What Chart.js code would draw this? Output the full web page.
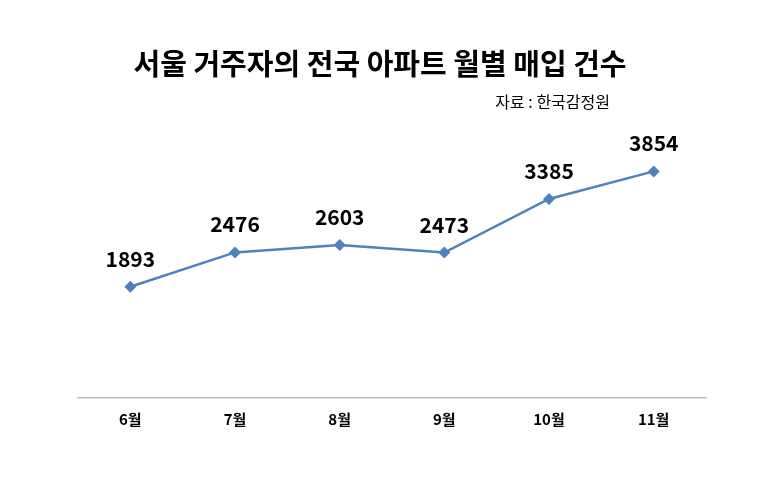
<!DOCTYPE html>
<html>
<head>
<meta charset="utf-8">
<script src="https://cdn.jsdelivr.net/npm/chart.js@4/dist/chart.umd.min.js"></script>
<style>
  html, body { margin: 0; padding: 0; background: #fff; }
  #wrap { width: 773px; height: 483px; }
</style>
</head>
<body>
<div id="wrap"><canvas id="tradeChart"></canvas></div>
<script>
var months = ['6월', '7월', '8월', '9월', '10월', '11월'];
var counts = [1893, 2476, 2603, 2473, 3385, 3854];
var chartTitle = '서울 거주자의 전국 아파트 월별 매입 건수';
var sourceText = '자료 : 한국감정원';

var FONT = "'Noto Sans CJK KR', 'Noto Sans', sans-serif";

// title + source line, drawn straight on the canvas
var headerPlugin = {
	id: 'header',
	beforeDraw: function(chart) {
		var ctx = chart.ctx;
		ctx.save();
		ctx.fillStyle = '#000';
		ctx.textBaseline = 'middle';
		ctx.textAlign = 'center';
		ctx.font = 'bold 29px ' + FONT;
		ctx.fillText(chartTitle, 380, 64);
		ctx.textAlign = 'right';
		ctx.font = '16px ' + FONT;
		ctx.fillText(sourceText, 610, 102);
		ctx.restore();
	}
};

// value labels above each point
var valueLabels = {
	id: 'valueLabels',
	afterDatasetsDraw: function(chart) {
		var ctx = chart.ctx;
		var meta = chart.getDatasetMeta(0);
		ctx.save();
		ctx.fillStyle = '#000';
		ctx.font = 'bold 21px ' + FONT;
		ctx.textAlign = 'center';
		ctx.textBaseline = 'middle';
		meta.data.forEach(function(pt, i) {
			ctx.fillText(counts[i], pt.x, pt.y - 28);
		});
		ctx.restore();
	}
};

var canvas = document.getElementById('tradeChart');

new Chart(canvas, {
	type: 'line',
	data: {
		labels: months,
		datasets: [{
			label: '매입 건수',
			data: counts,
			borderColor: '#4F81BD',
			backgroundColor: '#4F81BD',
			borderWidth: 2.5,
			fill: false,
			tension: 0,
			pointStyle: 'rectRot',
			pointRadius: 6,
			pointBorderWidth: 0,
			pointBackgroundColor: '#4F81BD'
		}]
	},
	options: {
		responsive: true,
		maintainAspectRatio: false,
		animation: false,
		layout: {
			padding: { left: 78, right: 67, top: 104, bottom: 51 }
		},
		plugins: {
			legend: { display: false },
			tooltip: { enabled: false }
		},
		scales: {
			x: {
				offset: true,
				grid: { display: false },
				border: { display: true, color: '#BFBFBF', width: 1.5 },
				ticks: {
					padding: 4,
					color: '#000',
					font: { family: FONT, size: 15, weight: 'bold' }
				}
			},
			y: {
				display: false,
				min: 0,
				max: 5000
			}
		}
	},
	plugins: [headerPlugin, valueLabels]
});
</script>
</body>
</html>
